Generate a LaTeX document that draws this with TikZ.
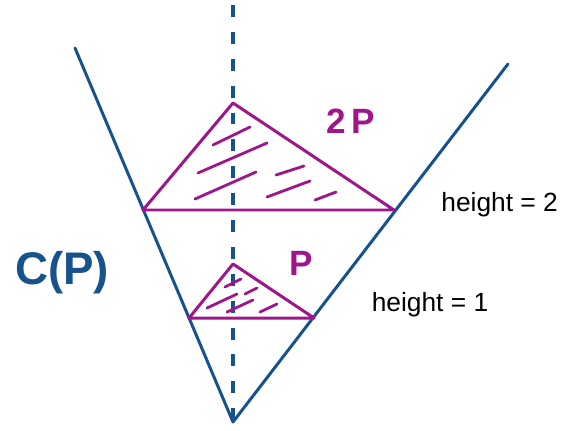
\documentclass[tikz,border=0pt]{standalone}
\usepackage{fontspec}
\setmainfont{Liberation Sans}
\usepackage{xcolor}
\definecolor{coneblue}{RGB}{22,82,140}
\definecolor{polymag}{RGB}{158,22,138}

\tikzset{
    cone/.style={line width=1.7pt, coneblue, line cap=round},
    poly/.style={line width=1.7pt, polymag, line join=round},
    hatch/.style={line width=1.6pt, polymag, line cap=round},
    hlabel/.style={font=\fontsize{15}{17}\selectfont, text=black}
}

\begin{document}
\begin{tikzpicture}[x=0.02cm,y=-0.02cm]
    \useasboundingbox (0,0) rectangle (561,430);

    % cone C(P)
    \coordinate (apex) at (233,422);
    \coordinate (coneL) at (75,48);
    \coordinate (coneR) at (508,64);
    \coordinate (axtop) at (233,5);
    \draw[cone, line width=2pt, line cap=butt, dash pattern=on 6.8pt off 8.5pt] (axtop) -- (apex);
    \draw[cone, line join=round] (coneL) -- (apex) -- (coneR);
    \node[coneblue, font=\bfseries\fontsize{26}{28}\selectfont] (cp) at (62,273) {C(P)};

    % polytope 2P
    \coordinate (bigtop) at (233,103);
    \coordinate (bigL) at (143,210);
    \coordinate (bigR) at (394,210);
    \draw[poly] (bigtop) -- (bigL) -- (bigR) -- cycle;
    \foreach \xa/\ya/\xb/\yb in {213/145/250/127, 198/173/267/143, 195/199/256/172,
                                 276/175/304/166, 267/197/310/181, 315/200/336/192} {
        \draw[hatch] (\xa,\ya) -- (\xb,\yb);
    }
    \node[polymag, font=\bfseries\fontsize{20}{22}\selectfont] (twop) at (351,121) {2\,P};

    % polytope P
    \coordinate (smtop) at (233,264);
    \coordinate (smL) at (189,318);
    \coordinate (smR) at (314,318);
    \draw[poly] (smtop) -- (smL) -- (smR) -- cycle;
    \foreach \xa/\ya/\xb/\yb in {225/287/241/279, 207/308/237/294, 245/294/257/288,
                                 227/312/253/300, 260/312/277/304} {
        \draw[hatch] (\xa,\ya) -- (\xb,\yb);
    }
    \node[polymag, font=\bfseries\fontsize{20}{22}\selectfont] (onep) at (301,263) {P};

    % heights
    \node[hlabel, anchor=east, inner sep=1pt] (htwo) at (560,205) {height = 2};
    \node[hlabel] (hone) at (430,305) {height = 1};
\end{tikzpicture}
\end{document}
